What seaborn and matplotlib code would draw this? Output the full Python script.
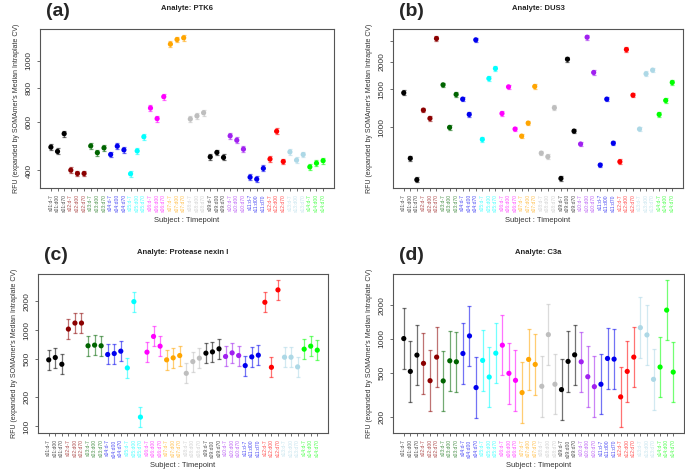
import numpy as np
import pandas as pd
import seaborn as sns
import matplotlib.pyplot as plt
from matplotlib.ticker import FixedLocator, NullLocator

# subjects / timepoints
subjects = ['s01', 's02', 's03', 's04', 's05', 's06', 's07',
            's08', 's09', 's10', 's11', 's12', 's13', 's14']
timepoints = ['d-7', 'd00', 'd70']
subject_colors = ['#000000', '#8B0000', '#006400', '#0000EE', '#00FFFF', '#FF00FF', '#FFA500',
                  '#BEBEBE', '#000000', '#A020F0', '#0000EE', '#FF0000', '#ADD8E6', '#00FF00']

# RFU values, 3 timepoints per subject (s01 d-7, s01 d00, s01 d70, s02 d-7, ...)
ptk6 = [486, 469, 544, 401, 390, 390, 491, 464, 483, 457, 490, 475, 389, 471,
        530, 674, 617, 741, 1150, 1195, 1212, 615, 631, 648, 448, 465, 446, 534,
        515, 478, 378, 372, 407, 440, 555, 431, 467, 436, 457, 412, 425, 434]
dus3 = [1442, 721, 575, 1201, 1100, 2560, 1569, 1000, 1417, 1349, 1147, 2525, 881, 1678,
        1865, 1159, 1536, 983, 912, 1047, 1542, 762, 734, 1231, 583, 2057, 962, 839,
        2596, 1788, 672, 1349, 847, 696, 2279, 1407, 983, 1763, 1833, 1147, 1330, 1609]
nexin = [491, 519, 442, 1024, 1183, 1183, 687, 698, 687, 558, 571, 604, 405, 1974,
         125, 590, 859, 681, 491, 515, 544, 356, 471, 511, 576, 594, 639, 532,
         580, 544, 428, 527, 549, 1943, 411, 2612, 523, 523, 415, 634, 681, 619]
c3a = [1007, 513, 717, 605, 424, 688, 422, 638, 625, 741, 1063, 368, 643, 457,
       746, 879, 493, 427, 332, 656, 592, 378, 1092, 394, 353, 630, 721, 625,
       460, 375, 394, 669, 660, 304, 513, 688, 1260, 1085, 436, 561, 1806, 506]

# multiplicative error (median intraplate CV expansion) per analyte
err_factor = {'PTK6': 1.025, 'DUS3': 1.025, 'Protease nexin I': 1.27, 'C3a': 1.86}

panels = [
    ('(a)', 'PTK6', ptk6, [400, 600, 800, 1000], ['400', '600', '800', '1000'],
     (40, 334, 29, 188)),
    ('(b)', 'DUS3', dus3, [1000, 1500, 2000, 2500], ['1000', '1500', '2000', ''],
     (393, 683, 29, 188)),
    ('(c)', 'Protease nexin I', nexin, [100, 200, 500, 1000, 2000],
     ['100', '200', '500', '1000', '2000'], (38, 328, 274, 433)),
    ('(d)', 'C3a', c3a, [200, 500, 1000, 2000], ['200', '500', '1000', '2000'],
     (393, 684, 274, 433)),
]

sns.set_theme(style='ticks')
plt.rcParams['font.family'] = ['Liberation Sans', 'DejaVu Sans']

W, H = 685, 474
fig = plt.figure(figsize=(W / 100, H / 100), dpi=100)

labels = [f'{s}:{t}' for s in subjects for t in timepoints]
label_subj = [s for s in subjects for t in timepoints]
palette = dict(zip(subjects, subject_colors))
frame = '#555555'

for letter, analyte, vals, yt, ytl, (l, r, t, b) in panels:
    ax = fig.add_axes([l / W, 1 - b / H, (r - l) / W, (b - t) / H])
    f = err_factor[analyte]
    df = pd.DataFrame({'pos': np.arange(1, len(vals) + 1), 'value': vals,
                       'subject': label_subj})
    df['lo'] = df['value'] / f
    df['hi'] = df['value'] * f

    for s, sub in df.groupby('subject'):
        ax.errorbar(sub['pos'], sub['value'],
                    yerr=[sub['value'] - sub['lo'], sub['hi'] - sub['value']],
                    fmt='none', ecolor=palette[s], alpha=0.55, capsize=1.2,
                    elinewidth=0.9, capthick=0.9, zorder=2)
    sns.scatterplot(data=df, x='pos', y='value', hue='subject', palette=palette,
                    s=14, linewidth=0, legend=False, ax=ax, zorder=3)

    # R-style log axis: 4% padding around the error-bar range
    ax.set_yscale('log')
    lo, hi = np.log10(df['lo'].min()), np.log10(df['hi'].max())
    pad = 0.04 * (hi - lo)
    ax.set_ylim(10 ** (lo - pad), 10 ** (hi + pad))
    n = len(vals)
    ax.set_xlim(1 - 0.04 * (n - 1), n + 0.04 * (n - 1))

    ax.yaxis.set_major_locator(FixedLocator(yt))
    ax.yaxis.set_minor_locator(NullLocator())
    ax.set_yticklabels(ytl, rotation=90, va='center', fontsize=6, color='#333333')
    ax.set_xticks(df['pos'])
    ax.set_xticklabels(labels, rotation=90, fontsize=3.6)
    for tl, s in zip(ax.get_xticklabels(), label_subj):
        tl.set_color(palette[s])
        tl.set_alpha(0.7)
    ax.tick_params(axis='both', length=2.5, width=0.6, color=frame, pad=2)
    ax.tick_params(axis='y', pad=3)

    for sp in ax.spines.values():
        sp.set_visible(True)
        sp.set_color(frame)
        sp.set_linewidth(0.8)

    ax.set_xlabel('Subject : Timepoint', fontsize=5.5, color='#333333', labelpad=3)
    ax.set_ylabel("RFU (expanded by SOMAmer's Median Intraplate CV)", fontsize=5,
                  color='#333333', labelpad=4)

    # title and panel letter placed in figure pixels
    cy = 9 if t < 100 else 253
    fig.text((l + r) / 2 / W, 1 - cy / H, f'Analyte: {analyte}', fontsize=5.5,
             fontweight='bold', ha='center', va='center')
    fig.text((l + 18) / W, 1 - (cy + 2) / H, letter, fontsize=14,
             fontweight='bold', ha='center', va='center')

fig.savefig('out.png', dpi=100)
